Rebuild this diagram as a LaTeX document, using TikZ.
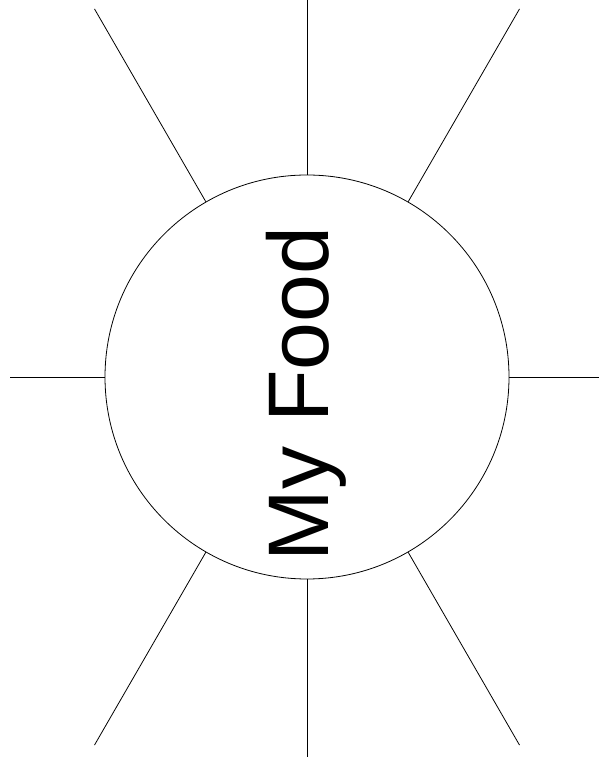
\documentclass[tikz,border=0pt]{standalone}
\usepackage{fontspec}
\setmainfont{Liberation Sans}
\usepackage{tikz}
\usetikzlibrary{calc}

\begin{document}
\begin{tikzpicture}[x=1pt, y=1pt, line width=0.8pt]
        \useasboundingbox (0,0) rectangle (599,760);

        % Central circle
        \node[draw, circle, minimum size=404pt, inner sep=0pt] (hub) at (307,383) {};

        % Title, rotated
        \node[rotate=90, anchor=base, inner sep=0pt, font=\fontsize{86}{86}\selectfont] (title) at (328,366) {My Food};

        % Free ends of the spokes
        \coordinate (N)  at ($(hub.center) + (90:377)$);
        \coordinate (S)  at ($(hub.center) + (270:380)$);
        \coordinate (W)  at ($(hub.center) + (180:297)$);
        \coordinate (E)  at ($(hub.center) + (0:292)$);
        \coordinate (NE) at ($(hub.center) + (60:425)$);
        \coordinate (NW) at ($(hub.center) + (120:425)$);
        \coordinate (SW) at ($(hub.center) + (240:425)$);
        \coordinate (SE) at ($(hub.center) + (300:425)$);

        % Spokes
        \draw (hub.90)  -- (N);
        \draw (hub.270) -- (S);
        \draw (hub.180) -- (W);
        \draw (hub.0)   -- (E);
        \draw (hub.60)  -- (NE);
        \draw (hub.120) -- (NW);
        \draw (hub.240) -- (SW);
        \draw (hub.300) -- (SE);
    \end{tikzpicture}
\end{document}
